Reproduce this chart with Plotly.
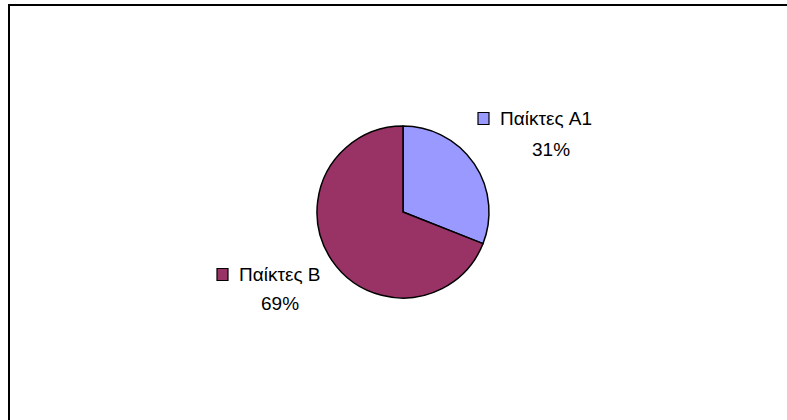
import plotly.graph_objects as go

labels = ["Παίκτες A1", "Παίκτες B"]
values = [31, 69]
colors = ["#9999FF", "#993366"]

W, H = 787, 420
def px(x):
    return x / W
def py(y):
    return 1 - y / H

cx, cy, r = 403, 212, 86

fig = go.Figure(go.Pie(
    labels=labels, values=values, sort=False, direction="clockwise", rotation=0,
    marker=dict(colors=colors, line=dict(color="black", width=1.5)),
    textinfo="none", hoverinfo="label+percent", showlegend=False,
    domain=dict(x=[px(cx - r), px(cx + r)], y=[py(cy + r), py(cy - r)]),
))

total = sum(values)
pcts = [f"{round(v / total * 100)}%" for v in values]

font = dict(family="Liberation Sans, Arial, sans-serif", size=19, color="black")
# label positions: (square left x, line1 center y, pct center x, pct center y)
pos = [(478, 118.5, 551, 149), (217, 274.5, 280, 303)]
shapes = [
    dict(type="line", xref="paper", yref="paper", x0=px(9), y0=py(4), x1=px(9), y1=0, line=dict(color="black", width=2)),
    dict(type="line", xref="paper", yref="paper", x0=px(8), y0=py(5), x1=1, y1=py(5), line=dict(color="black", width=2)),
]
ann = []
for i, (sx, ly, pcx, pcy) in enumerate(pos):
    shapes.append(dict(type="rect", xref="paper", yref="paper",
                       x0=px(sx), x1=px(sx + 11), y0=py(ly + 6), y1=py(ly - 6),
                       fillcolor=colors[i], line=dict(color="black", width=1.2)))
    ann.append(dict(xref="paper", yref="paper", x=px(sx + 20), y=py(ly), xanchor="left", yanchor="middle",
                    text=labels[i], showarrow=False, font=font))
    ann.append(dict(xref="paper", yref="paper", x=px(pcx), y=py(pcy), xanchor="center", yanchor="middle",
                    text=pcts[i], showarrow=False, font=font))

fig.update_layout(
    width=W, height=H, margin=dict(l=0, r=0, t=0, b=0),
    paper_bgcolor="white", plot_bgcolor="white",
    shapes=shapes, annotations=ann,
)
fig.write_html("out.html")
